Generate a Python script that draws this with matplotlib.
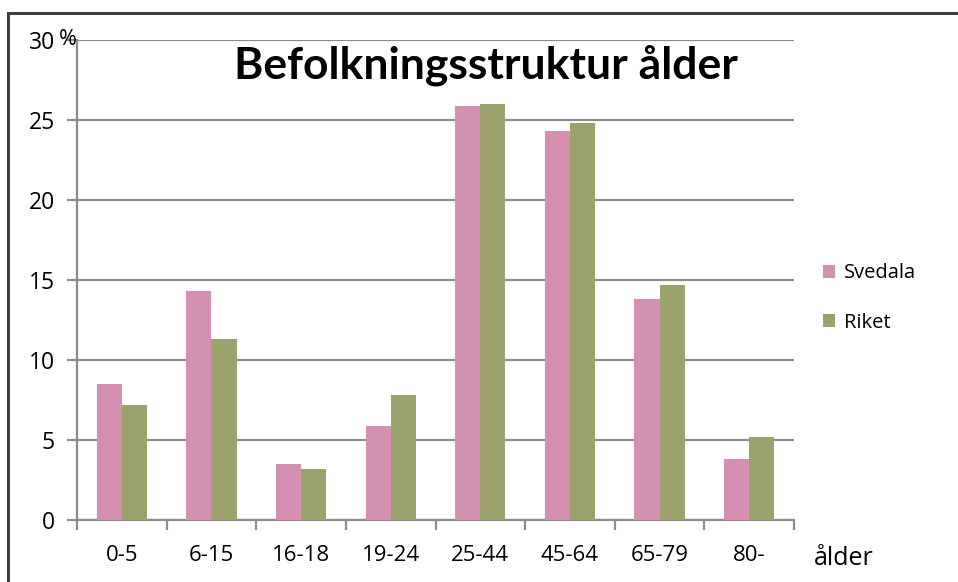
import matplotlib.pyplot as plt
import numpy as np
from matplotlib.lines import Line2D

# data
aldersgrupper = ['0-5', '6-15', '16-18', '19-24', '25-44', '45-64', '65-79', '80-']
svedala = [8.5, 14.3, 3.5, 5.9, 25.9, 24.3, 13.8, 3.8]
riket = [7.2, 11.3, 3.2, 7.8, 26.0, 24.8, 14.7, 5.2]

PINK = '#D490B0'
GREEN = '#9BA26C'
GRID = '#8C8C8C'


def main():
    plt.rcParams['font.family'] = ['Open Sans', 'DejaVu Sans']
    fig = plt.figure(figsize=(9.58, 5.82), dpi=100)
    ax = fig.add_axes([0.0804, 0.1065, 0.7484, 0.8248])

    x = np.arange(len(aldersgrupper))
    w = 0.28
    ax.bar(x - w / 2, svedala, w, color=PINK, label='Svedala', zorder=3)
    ax.bar(x + w / 2, riket, w, color=GREEN, label='Riket', zorder=3)

    ax.set_xlim(-0.5, len(aldersgrupper) - 0.5)
    ax.set_ylim(0, 30)
    ax.set_yticks(np.arange(0, 31, 5))
    ax.yaxis.grid(True, color=GRID, linewidth=1.6, zorder=0)

    ax.set_xticks(x)
    ax.set_xticklabels(aldersgrupper, fontsize=16)
    ax.set_xticks(np.arange(-0.5, len(aldersgrupper)), minor=True)
    ax.tick_params(axis='x', which='major', length=0, pad=18)
    ax.tick_params(axis='x', which='minor', length=7, width=1.6, color=GRID)
    ax.tick_params(axis='y', length=7, width=1.6, color=GRID, labelsize=16.5, pad=9)

    for s in ['top', 'right']:
        ax.spines[s].set_visible(False)
    for s in ['left', 'bottom']:
        ax.spines[s].set_color(GRID)
        ax.spines[s].set_linewidth(1.6)

    ax.legend(loc='center left', bbox_to_anchor=(1.015, 0.4625), frameon=False,
              fontsize=14.5, handlelength=0.6, handleheight=0.6,
              labelspacing=1.45, handletextpad=0.45)

    fig.text(0.507, 0.888, 'Befolkningsstruktur ålder', ha='center', va='center',
             fontsize=32, fontweight='bold', family=['Lato', 'DejaVu Sans'])
    fig.text(0.061, 0.932, '%', ha='left', va='center', fontsize=15.5)
    fig.text(0.850, 0.040, 'ålder', ha='left', va='center', fontsize=18)

    # frame lines of the original screenshot (top and left)
    fig.add_artist(Line2D([0.0085, 1.0], [0.977, 0.977], transform=fig.transFigure,
                          color='#404040', linewidth=2.2))
    fig.add_artist(Line2D([0.0085, 0.0085], [0.0, 0.977], transform=fig.transFigure,
                          color='#404040', linewidth=2.2))

    plt.savefig('out.png', dpi=100)


if __name__ == '__main__':
    main()
